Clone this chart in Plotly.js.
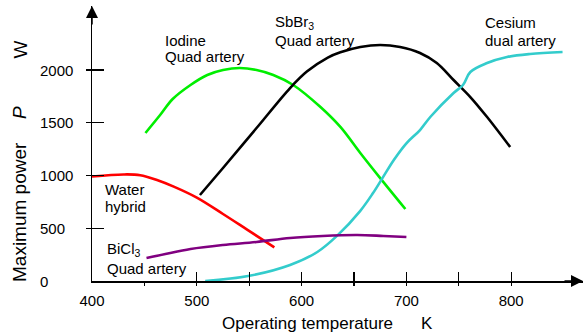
<!DOCTYPE html>
<html>
<head>
<meta charset="utf-8">
<script src="https://cdn.plot.ly/plotly-3.0.1.min.js"></script>
<style>html,body{margin:0;padding:0;background:#fff;}#chart{width:584px;height:334px;}</style>
</head>
<body>
<div id="chart"></div>
<script>
// ---- data ----
const waterK   = [400, 430, 446, 462, 478, 500, 525, 548, 574];
const waterP   = [990, 1010, 1003, 957, 894, 790, 635, 487, 319];

const iodineK  = [451, 465, 477, 494, 510, 525, 541, 557, 573, 592, 618, 637, 656, 675, 699];
const iodineP  = [1403, 1573, 1725, 1858, 1953, 2000, 2019, 2000, 1953, 1858, 1649, 1460, 1213, 975, 682];

const sbbrK    = [503, 525, 557, 589, 605, 625, 637, 656, 675, 694, 713, 729, 745, 761, 777, 799];
const sbbrP    = [815, 1071, 1450, 1829, 1985, 2118, 2168, 2218, 2237, 2218, 2161, 2066, 1905, 1744, 1554, 1270];

const cesiumK  = [508, 549, 589, 615, 634, 656, 668, 678, 688, 700, 713, 723, 745, 754, 761, 777, 796, 818, 849];
const cesiumP  = [0, 47, 152, 275, 430, 665, 831, 989, 1147, 1305, 1431, 1557, 1782, 1858, 1981, 2066, 2123, 2152, 2171];

const bicl3K   = [452, 470, 494, 525, 557, 589, 620, 653, 678, 700];
const bicl3P   = [218, 256, 303, 341, 370, 408, 427, 436, 427, 417];

const xTickVals   = [400, 500, 600, 700, 800];
const xTickText   = ['400', '500', '600', '700', '800'];
const xMinorVals  = [550, 650, 750];
const xStubVals   = [450, 500, 550, 600, 650, 700, 750, 800];
const yTickVals   = [0, 500, 1000, 1500, 2000];
const yTickText   = ['0', '500', '1000', '1500', '2000'];
const yStubVals   = [500, 1000, 1500, 2000];

// ---- layout helpers (pixel -> paper) ----
const L = 92, T = 6, W = 491, H = 275;
const px = x => (x - L) / W;
const py = y => (T + H - y) / H;

const FONT = 'Liberation Sans, Arial, Helvetica, sans-serif';
const lineStyle = (c) => ({color: c, width: 2.6, shape: 'spline', smoothing: 1.0});

const traces = [
  {x: waterK,  y: waterP,  mode: 'lines', line: lineStyle('#ff0000'), name: 'Water hybrid'},
  {x: iodineK, y: iodineP, mode: 'lines', line: lineStyle('#00ee00'), name: 'Iodine Quad artery'},
  {x: sbbrK,   y: sbbrP,   mode: 'lines', line: lineStyle('#000000'), name: 'SbBr3 Quad artery'},
  {x: cesiumK, y: cesiumP, mode: 'lines', line: lineStyle('#33cccc'), name: 'Cesium dual artery'},
  {x: bicl3K,  y: bicl3P,  mode: 'lines', line: lineStyle('#800080'), name: 'BiCl3 Quad artery'},
  {x: [], y: [], xaxis: 'x2', yaxis: 'y2', mode: 'lines', hoverinfo: 'skip', showlegend: false}
];

const xr = [400, 400 + W / 1.048];
const yr = [0, H / 0.1055];

const annotations = [];
// y tick labels (left aligned as in the reference)
yTickVals.forEach((v, i) => annotations.push({
  xref: 'paper', yref: 'y', x: px(38), y: v, xanchor: 'left', yanchor: 'middle',
  text: yTickText[i], showarrow: false, font: {size: 15}
}));
// axis arrows
annotations.push({xref: 'paper', yref: 'paper', x: 0, y: 1, ax: 0, ay: 20,
  text: '', showarrow: true, arrowhead: 2, arrowsize: 1.6, arrowwidth: 1.5, arrowcolor: '#000', standoff: 0});
annotations.push({xref: 'paper', yref: 'paper', x: 1, y: 0, ax: -20, ay: 0,
  text: '', showarrow: true, arrowhead: 2, arrowsize: 1.6, arrowwidth: 1.5, arrowcolor: '#000', standoff: 0});
// axis titles
const txt = (x, y, text, extra) => Object.assign({xref: 'paper', yref: 'paper', x: px(x), y: py(y),
  xanchor: 'left', yanchor: 'middle', text: text, showarrow: false, font: {size: 15}}, extra || {});
annotations.push(txt(307.5, 323, 'Operating temperature', {xanchor: 'center', font: {size: 17}}));
annotations.push(txt(427, 323, 'K', {xanchor: 'center', font: {size: 17}}));
annotations.push(txt(20, 212, 'Maximum power', {xanchor: 'center', textangle: -90, font: {size: 19}}));
annotations.push(txt(20, 113, '<i>P</i>', {xanchor: 'center', textangle: -90, font: {size: 19}}));
annotations.push(txt(20, 49.5, 'W', {xanchor: 'center', textangle: -90, font: {size: 19}}));
// curve labels
annotations.push(txt(163, 40, 'Iodine'));
annotations.push(txt(163, 57, 'Quad artery'));
annotations.push(txt(273, 23, 'SbBr<sub>3</sub>'));
annotations.push(txt(273, 40, 'Quad artery'));
annotations.push(txt(483, 23, 'Cesium'));
annotations.push(txt(483, 40, 'dual artery'));
annotations.push(txt(103, 189, 'Water'));
annotations.push(txt(103, 206, 'hybrid'));
annotations.push(txt(105, 250, 'BiCl<sub>3</sub>'));
annotations.push(txt(105, 268, 'Quad artery'));

const layout = {
  width: 584, height: 334,
  margin: {l: L, r: 584 - L - W, t: T, b: 334 - T - H, pad: 0},
  paper_bgcolor: '#ffffff', plot_bgcolor: '#ffffff',
  showlegend: false,
  font: {family: FONT, size: 15, color: '#000'},
  xaxis: {
    range: xr, showline: true, linecolor: '#000', linewidth: 1.5,
    tickmode: 'array', tickvals: xTickVals, ticktext: xTickText,
    ticks: 'inside', ticklen: 9, tickwidth: 1.3, tickcolor: '#000',
    minor: {tickmode: 'array', tickvals: xMinorVals, ticks: 'inside', ticklen: 9, tickwidth: 1.3, tickcolor: '#000', showgrid: false},
    showgrid: false, zeroline: false, tickfont: {size: 15}, ticklabelstandoff: 5
  },
  yaxis: {
    range: yr, showline: true, linecolor: '#000', linewidth: 1.5,
    tickmode: 'array', tickvals: yTickVals, ticks: 'inside', ticklen: 12, tickwidth: 1.3, tickcolor: '#000',
    showticklabels: false, showgrid: false, zeroline: false
  },
  xaxis2: {
    overlaying: 'x', anchor: 'y2', range: xr, showline: false, showgrid: false, zeroline: false,
    tickmode: 'array', tickvals: xStubVals, ticks: 'outside', ticklen: 4, tickwidth: 1.3, tickcolor: '#000',
    showticklabels: false
  },
  yaxis2: {
    overlaying: 'y', anchor: 'x2', side: 'left', range: yr, showline: false, showgrid: false, zeroline: false,
    tickmode: 'array', tickvals: yStubVals, ticks: 'outside', ticklen: 5, tickwidth: 1.3, tickcolor: '#000',
    showticklabels: false
  },
  annotations: annotations
};

Plotly.newPlot('chart', traces, layout, {displayModeBar: false, staticPlot: true});
</script>
</body>
</html>
